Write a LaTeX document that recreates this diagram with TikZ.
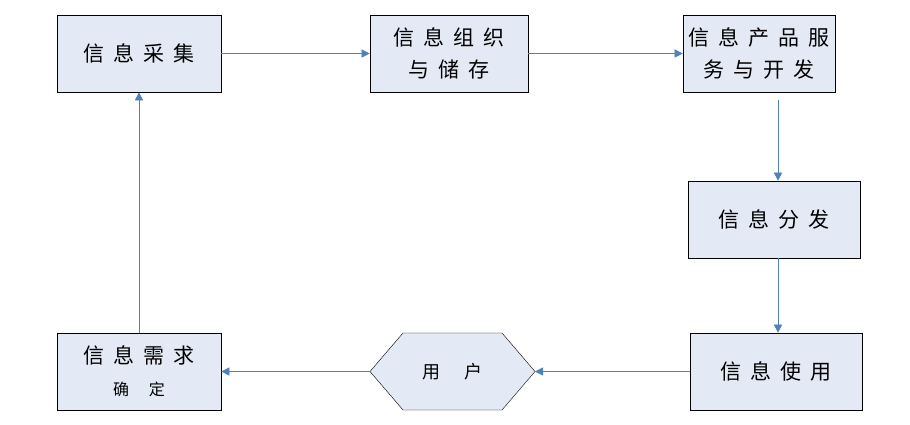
\documentclass[tikz,border=0pt]{standalone}
\usepackage{fontspec}
\newfontfamily\cjk{Noto Sans CJK SC}
\usetikzlibrary{arrows.meta,positioning}
\definecolor{boxfill}{HTML}{E3EAF5}
\definecolor{linkblue}{HTML}{4F81BD}
\newcommand{\gap}{\hspace{9pt}}
\tikzset{
  stagebox/.style={draw=black,fill=boxfill,semithick,minimum width=164pt,minimum height=77pt,
    align=center,font=\cjk\fontsize{21}{32}\selectfont,inner sep=0pt},
  link/.style={draw=linkblue,thin,-{Triangle[length=8pt,width=8pt]}}
}
\begin{document}
\begin{tikzpicture}[x=1pt,y=-1pt]
\useasboundingbox (0,0) rectangle (910,424);

\node[stagebox] (collect) at (139,53.5) {信\gap 息\gap 采\gap 集};
\node[stagebox,minimum width=158pt] (organize) at (449,53.5) {信\gap 息\gap 组\gap 织\\与\gap 储\gap 存};
\node[stagebox,minimum width=152pt] (product) at (759,53.5) {信\gap 息\gap 产\gap 品\gap 服\\务\gap 与\gap 开\gap 发};
\node[stagebox,minimum width=172pt] (distrib) at (774,219.5) {信\gap 息\gap 分\gap 发};
\node[stagebox,minimum width=172pt] (use) at (776,371.5) {信\gap 息\gap 使\gap 用};
\node[stagebox] (demand) at (139,371.5) {信\gap 息\gap 需\gap 求\\{\fontsize{16}{24}\selectfont 确\hspace{20pt}定}};

% hexagon for the user
\filldraw[draw=black,fill=boxfill,thin] (370,371.5) -- (403,333) -- (502,333) -- (535,371.5)
  -- (502,410) -- (403,410) -- cycle;
\node[font=\cjk\fontsize{18}{20}\selectfont] (user) at (452.5,371.5) {用\hspace{24pt}户};
\coordinate (userL) at (370,371.5);
\coordinate (userR) at (535,371.5);
\coordinate (prodout) at (778,100);

\draw[link] (collect) -- (organize);
\draw[link] (organize) -- (product);
\draw[link] (prodout) -- (prodout |- distrib.north);
\draw[link] (prodout |- distrib.south) -- (prodout |- use.north);
\draw[link] (use.west) -- (userR);
\draw[link] (userL) -- (demand.east);
\draw[link] (demand) -- (collect);
\end{tikzpicture}
\end{document}
